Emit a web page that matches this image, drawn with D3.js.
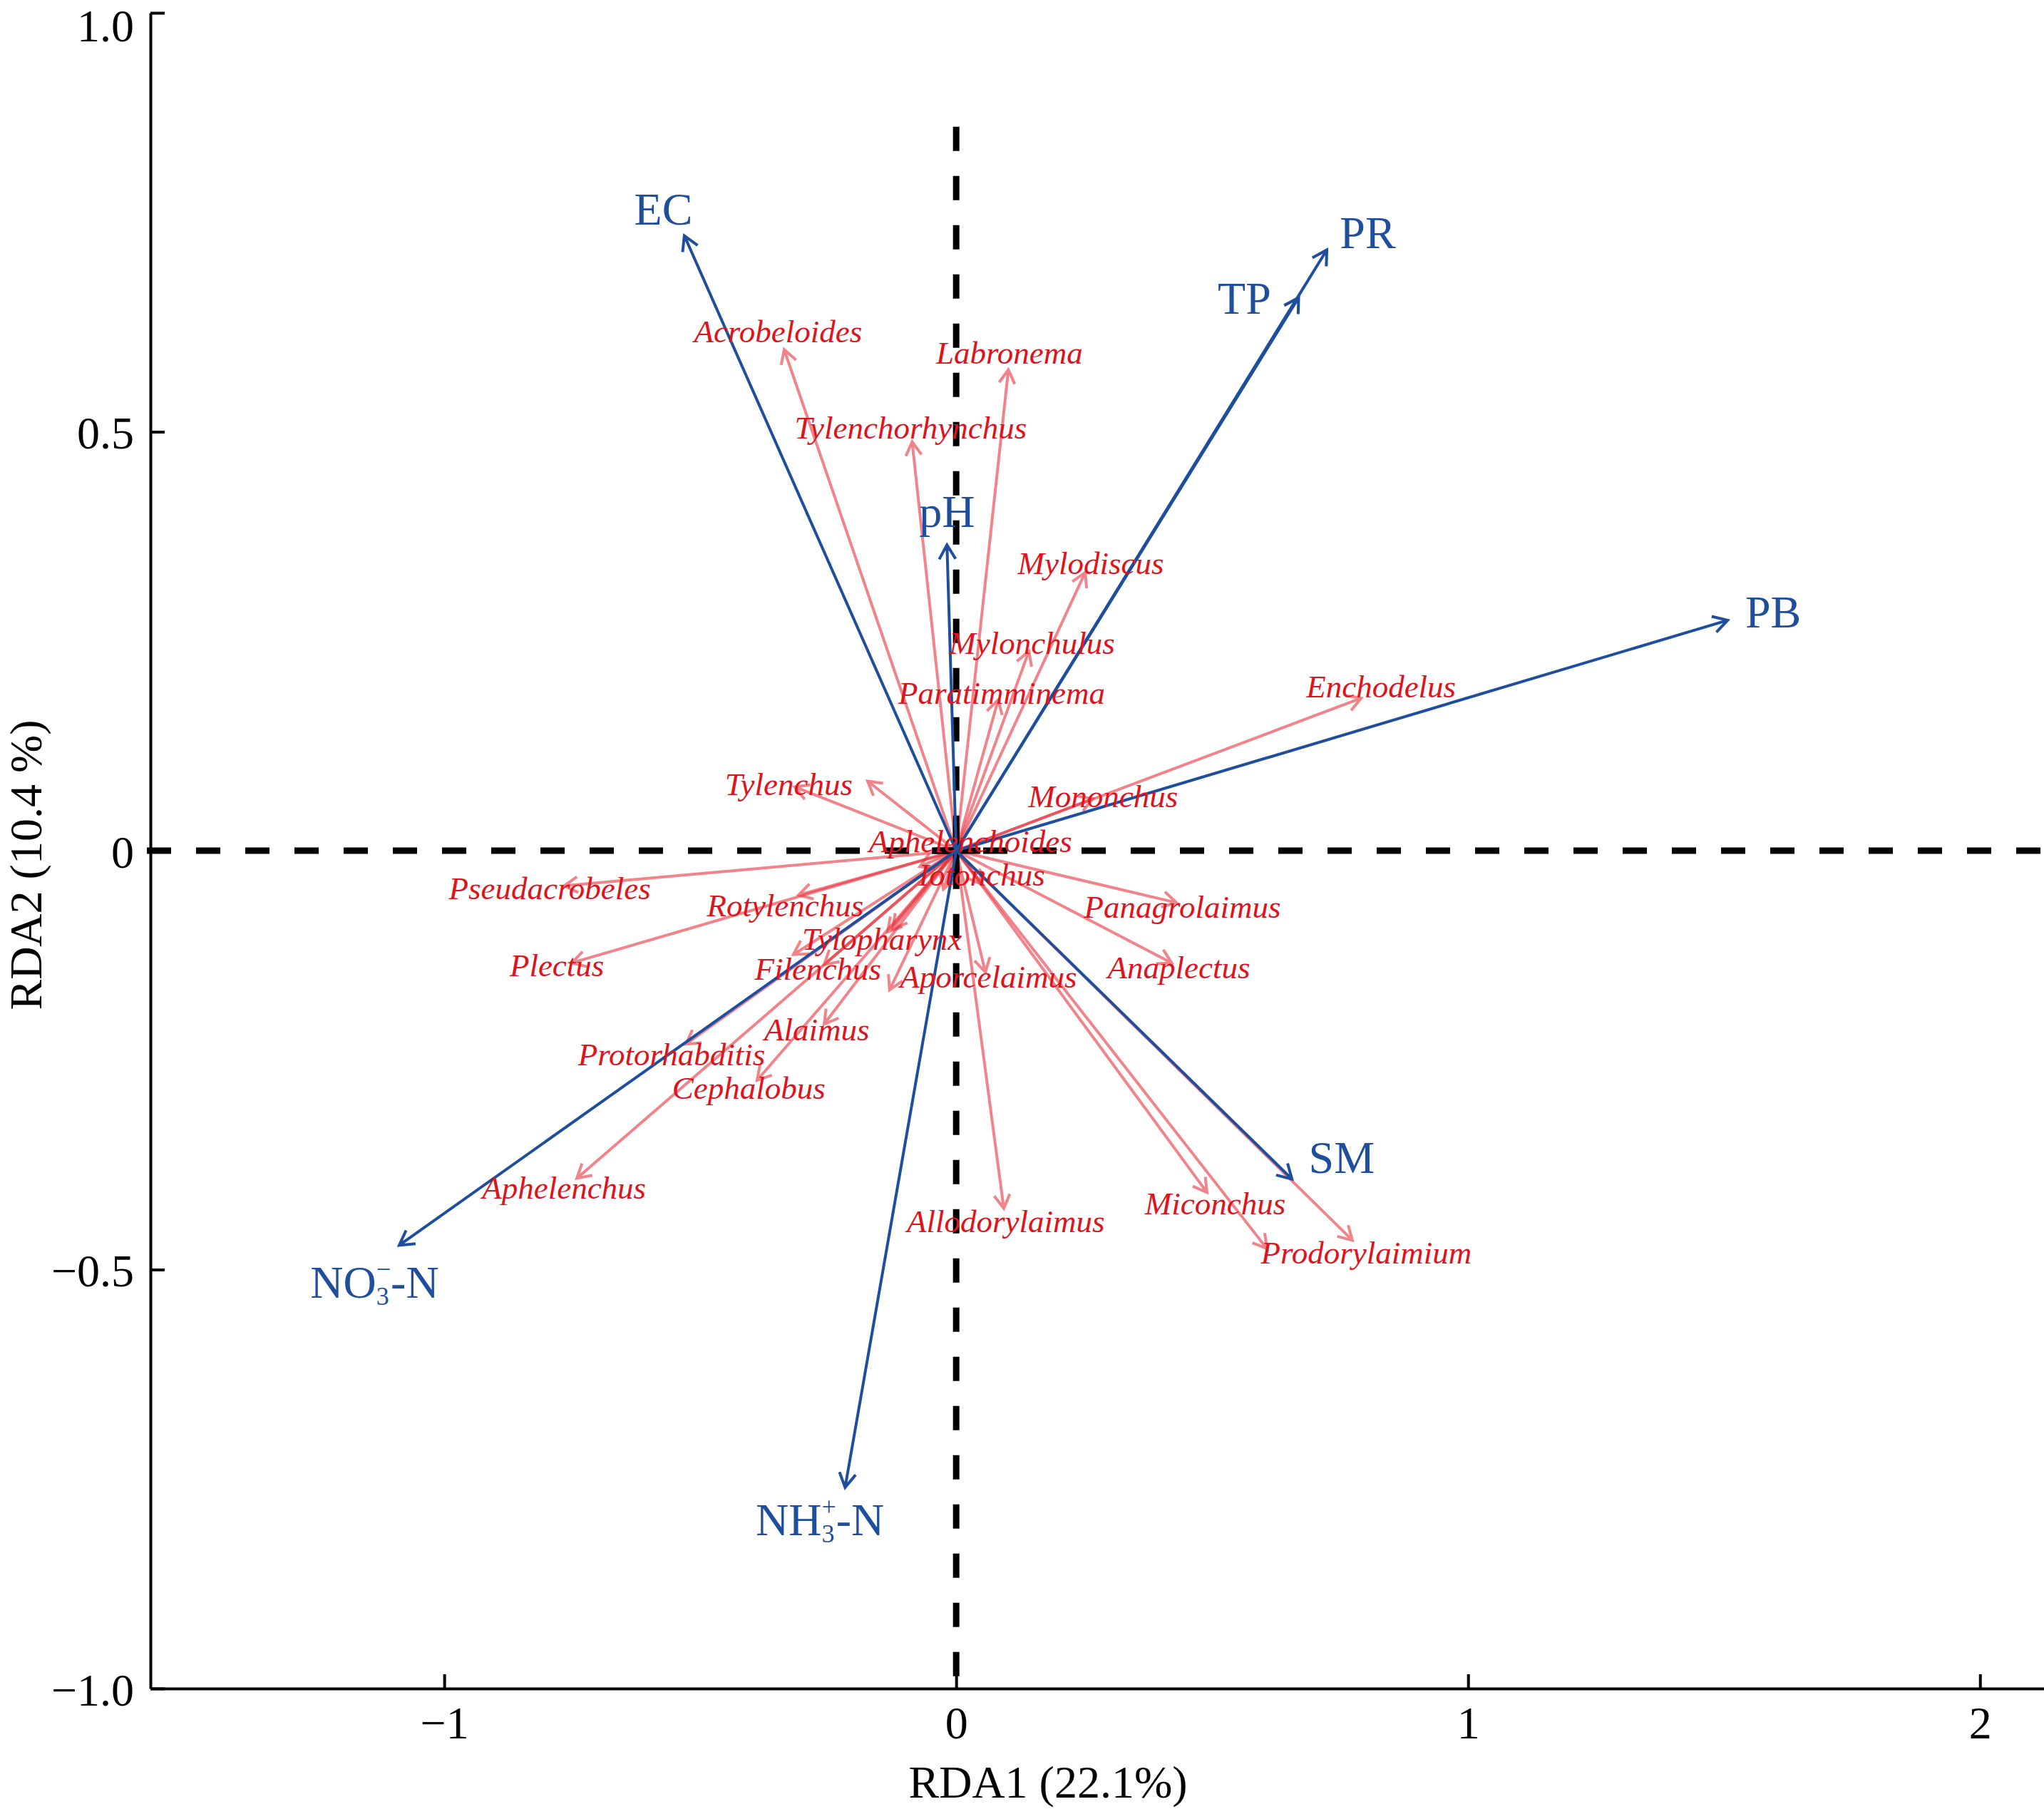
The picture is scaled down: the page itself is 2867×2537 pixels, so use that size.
<!DOCTYPE html>
<html>
<head>
<meta charset="utf-8">
<script src="https://cdn.jsdelivr.net/npm/d3@7"></script>
<style>
  html, body { margin: 0; padding: 0; background: #fff; }
  svg { display: block; }
</style>
</head>
<body>
<svg id="rda" width="2867" height="2537"></svg>
<script>
// Environmental variables (blue arrows): tip coordinates and label anchor (centre x, baseline y)
const envNames = ["EC", "PR", "TP", "pH", "PB", "SM", "NO3-N", "NH3-N"];
const envX = [-0.531, 0.724, 0.669, -0.018, 1.507, 0.656, -1.088, -0.217];
const envY = [0.734, 0.717, 0.660, 0.365, 0.275, -0.392, -0.471, -0.760];
const envLabelX = [-0.572, 0.804, 0.563, -0.018, 1.596, 0.753, -1.136, -0.266];
const envLabelY = [0.747, 0.719, 0.641, 0.386, 0.266, -0.385, -0.534, -0.817];

// Nematode genera (red arrows); "" = arrow without a readable label
const sppNames = ["Acrobeloides", "Labronema", "Tylenchorhynchus", "Mylodiscus", "Mylonchulus",
  "Paratimminema", "Enchodelus", "Tylenchus", "", "Mononchus", "Aphelenchoides", "Iotonchus", "",
  "Pseudacrobeles", "Rotylenchus", "Plectus", "Tylopharynx", "", "Filenchus", "", "",
  "Aporcelaimus", "Alaimus", "Protorhabditis", "Cephalobus", "Aphelenchus", "Panagrolaimus",
  "Anaplectus", "Allodorylaimus", "Miconchus", "", "Prodorylaimium"];
const sppX = [-0.336, 0.102, -0.086, 0.252, 0.142, 0.082, 0.791, -0.315, -0.173, 0.267, -0.071, 0.050, -0.025,
  -0.766, -0.308, -0.751, -0.134, -0.124, -0.258, -0.318, -0.130,
  0.057, -0.258, -0.528, -0.389, -0.741, 0.430, 0.421, 0.093, 0.490, 0.607, 0.774];
const sppY = [0.598, 0.574, 0.488, 0.332, 0.238, 0.180, 0.182, 0.076, 0.083, 0.062, -0.019, -0.040, -0.046,
  -0.042, -0.053, -0.134, -0.097, -0.093, -0.136, -0.124, -0.166,
  -0.145, -0.207, -0.231, -0.274, -0.391, -0.062, -0.134, -0.427, -0.408, -0.475, -0.465];
const sppLabelX = [-0.348, 0.104, -0.089, 0.263, 0.148, 0.089, 0.830, -0.327, null, 0.287, 0.028, 0.050, null,
  -0.794, -0.334, -0.780, -0.145, null, -0.270, null, null,
  0.063, -0.272, -0.556, -0.405, -0.766, 0.442, 0.435, 0.097, 0.506, null, 0.801];
const sppLabelY = [0.607, 0.581, 0.492, 0.330, 0.235, 0.175, 0.183, 0.066, null, 0.052, -0.002, -0.042, null,
  -0.058, -0.078, -0.150, -0.118, null, -0.154, null, null,
  -0.163, -0.226, -0.256, -0.296, -0.415, -0.080, -0.152, -0.455, -0.434, null, -0.493];

const xTicks = [-1, 0, 1, 2];
const xTickLabels = ["\u22121", "0", "1", "2"];
const yTicks = [-1, -0.5, 0, 0.5, 1];
const yTickLabels = ["\u22121.0", "\u22120.5", "0", "0.5", "1.0"];
const xTitle = "RDA1 (22.1%)";
const yTitle = "RDA2 (10.4 %)";

const serif = "'Liberation Serif', 'Times New Roman', serif";
const blue = "#1f4e9c";
const redText = "#dc141e";
const redLine = "#e6323c";

const svg = d3.select("#rda");
const plotLeft = 211, plotRight = 2867, plotTop = 18, plotBottom = 2368;

const x = d3.scaleLinear().domain([-1.574, 2.125]).range([plotLeft, plotRight]);
const y = d3.scaleLinear().domain([-1, 1]).range([plotBottom, plotTop]);

function arrowPath(xv, yv, len, half) {
  const x0 = x(0), y0 = y(0), x1 = x(xv), y1 = y(yv);
  const a = Math.atan2(y1 - y0, x1 - x0);
  const ax1 = x1 - len * Math.cos(a - half), ay1 = y1 - len * Math.sin(a - half);
  const ax2 = x1 - len * Math.cos(a + half), ay2 = y1 - len * Math.sin(a + half);
  return `M${x0},${y0}L${x1},${y1}M${ax1},${ay1}L${x1},${y1}L${ax2},${ay2}`;
}

// species arrows
svg.append("g")
  .selectAll("path")
  .data(d3.range(sppNames.length))
  .enter()
  .append("path")
  .attr("d", i => arrowPath(sppX[i], sppY[i], 22, Math.PI / 6))
  .attr("fill", "none")
  .attr("stroke", redLine)
  .attr("stroke-opacity", 0.6)
  .attr("stroke-width", 4);

// dashed zero lines
const dash = svg.append("g").attr("stroke", "#000").attr("stroke-width", 9).attr("stroke-dasharray", "34,35");
dash.append("line")
  .attr("x1", plotLeft - 5).attr("x2", plotRight)
  .attr("y1", y(0)).attr("y2", y(0));
dash.append("line")
  .attr("x1", x(0)).attr("x2", x(0))
  .attr("y1", y(0.864)).attr("y2", plotBottom);

// centre cross
svg.append("path")
  .attr("d", `M${x(0) - 34},${y(0)}H${x(0) + 34}M${x(0)},${y(0) - 34}V${y(0) + 34}`)
  .attr("stroke", "#000")
  .attr("stroke-width", 9);

// environmental arrows
svg.append("g")
  .selectAll("path")
  .data(d3.range(envNames.length))
  .enter()
  .append("path")
  .attr("d", i => arrowPath(envX[i], envY[i], 23, Math.PI / 6))
  .attr("fill", "none")
  .attr("stroke", blue)
  .attr("stroke-width", 4);

// axes
const yAxis = svg.append("g")
  .attr("transform", `translate(${plotLeft},0)`)
  .call(d3.axisLeft(y).tickValues(yTicks).tickFormat((d, i) => yTickLabels[i])
    .tickSizeInner(-20).tickSizeOuter(0).tickPadding(23));
const xAxis = svg.append("g")
  .attr("transform", `translate(0,${plotBottom})`)
  .call(d3.axisBottom(x).tickValues(xTicks).tickFormat((d, i) => xTickLabels[i])
    .tickSizeInner(-20).tickSizeOuter(0).tickPadding(25));

[xAxis, yAxis].forEach(g => {
  g.attr("font-family", serif).attr("font-size", 64);
  g.select(".domain").attr("stroke", "#000").attr("stroke-width", 4);
  g.selectAll(".tick line").attr("stroke", "#000").attr("stroke-width", 4);
  g.selectAll(".tick text").attr("fill", "#000");
});
// keep the top label inside the picture
yAxis.selectAll(".tick text").attr("dy", d => d === 1 ? "0.62em" : "0.36em");

svg.append("text")
  .attr("x", 1470).attr("y", 2521)
  .attr("text-anchor", "middle")
  .attr("font-family", serif).attr("font-size", 64)
  .text(xTitle);
svg.append("text")
  .attr("transform", `translate(58,${(plotTop + plotBottom) / 2 + 20}) rotate(-90)`)
  .attr("text-anchor", "middle")
  .attr("font-family", serif).attr("font-size", 64)
  .text(yTitle);

// species labels
svg.append("g")
  .selectAll("text")
  .data(d3.range(sppNames.length).filter(i => sppNames[i] !== ""))
  .enter()
  .append("text")
  .attr("x", i => x(sppLabelX[i]))
  .attr("y", i => y(sppLabelY[i]))
  .attr("text-anchor", "middle")
  .attr("font-family", serif)
  .attr("font-style", "italic")
  .attr("font-size", 45)
  .attr("fill", redText)
  .text(i => sppNames[i]);

// environmental labels
const envLab = svg.append("g")
  .selectAll("text")
  .data(d3.range(envNames.length))
  .enter()
  .append("text")
  .attr("x", i => x(envLabelX[i]))
  .attr("y", i => y(envLabelY[i]))
  .attr("text-anchor", "middle")
  .attr("font-family", serif)
  .attr("font-size", 64)
  .attr("fill", blue);

envLab.each(function (i) {
  const t = d3.select(this);
  const name = envNames[i];
  if (name === "NO3-N" || name === "NH3-N") {
    const ion = name === "NO3-N" ? "\u2212" : "+";
    t.append("tspan").text(name.slice(0, 2));
    t.append("tspan").attr("font-size", 36).attr("dy", 10).text("3");
    t.append("tspan").attr("font-size", 36).attr("dx", -18).attr("dy", -38).text(ion);
    t.append("tspan").attr("dy", 28).text("-N");
  } else {
    t.text(name);
  }
});
</script>
</body>
</html>
